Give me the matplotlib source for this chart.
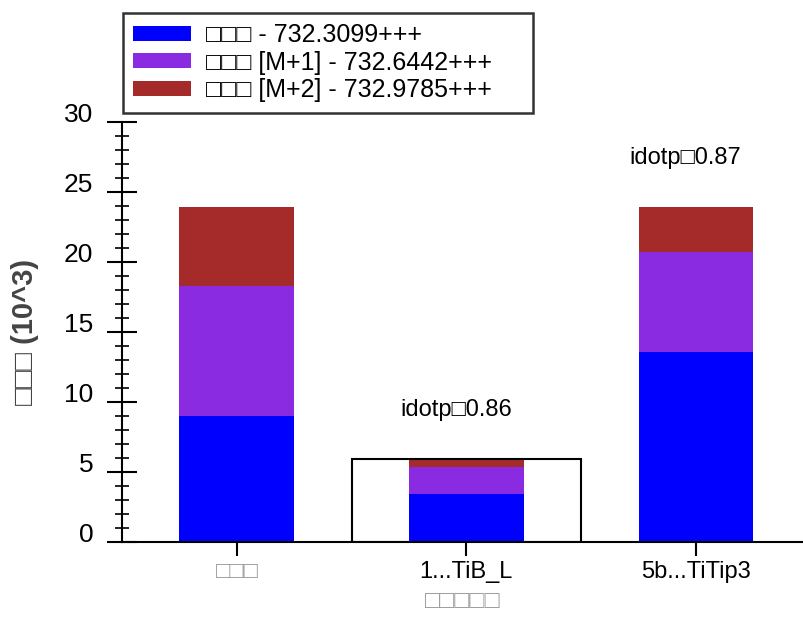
import matplotlib
matplotlib.use('Agg')
import matplotlib.pyplot as plt
from matplotlib.patches import Rectangle
from matplotlib.ticker import MultipleLocator

plt.rcParams['font.family'] = ['Liberation Sans', 'DejaVu Sans']

replicates = ['□□□', '1...TiB_L', '5b...TiTip3']
mono = [9.0, 3.43, 13.57]
m_plus1 = [9.29, 1.93, 7.14]
m_plus2 = [5.64, 0.57, 3.22]
idotp = [None, 0.86, 0.87]
series_labels = ['□□□ - 732.3099+++', '□□□ [M+1] - 732.6442+++', '□□□ [M+2] - 732.9785+++']
colors = ['#0000FF', '#8A2BE2', '#A52A2A']
selected = 1

fig = plt.figure(figsize=(8.04, 6.19), dpi=100)
ax = fig.add_axes([0.1517, 0.1244, 0.8483, 0.6786])

x = list(range(len(replicates)))
bottom = [0.0] * len(x)
handles = []
for vals, lab, c in zip([mono, m_plus1, m_plus2], series_labels, colors):
    h = ax.bar(x, vals, width=0.5, bottom=bottom, color=c, label=lab, zorder=2)
    handles.append(h)
    bottom = [b + v for b, v in zip(bottom, vals)]

# outline around the selected replicate
ax.add_patch(Rectangle((selected - 0.5, 0), 1.0, bottom[selected], fill=False,
                       edgecolor='black', linewidth=1.5, zorder=3))

for i, d in enumerate(idotp):
    if d is not None:
        ax.annotate(f'idotp□{d:.2f}', xy=(i, bottom[i] + 3.5), xytext=(-7.5, 0),
                    textcoords='offset points', ha='center', va='center', fontsize=17)

ax.set_xlim(-0.5, 2.47)
ax.set_ylim(0, 30)
ax.set_xticks(x)
ax.set_xticklabels(replicates, fontsize=17)
ax.get_xticklabels()[0].set_color('#999999')
ax.yaxis.set_major_locator(MultipleLocator(5))
ax.yaxis.set_minor_locator(MultipleLocator(1))
ax.tick_params(axis='y', which='major', direction='inout', length=21, width=1.5, labelsize=19, pad=10)
ax.tick_params(axis='y', which='minor', direction='inout', length=10, width=1.2)
ax.tick_params(axis='x', which='major', direction='out', length=10, width=1.5, pad=4)
for lbl in ax.get_yticklabels():
    lbl.set_verticalalignment('baseline')

for s in ['top', 'right']:
    ax.spines[s].set_visible(False)
ax.spines['left'].set_linewidth(1.5)
ax.spines['bottom'].set_linewidth(1.5)

ax.set_ylabel('□□□ (10^3)', fontsize=21, fontweight='bold', color='#444444', labelpad=18)
ax.set_xlabel('□□□□□', fontsize=18, color='#999999', labelpad=4)

leg = fig.legend(handles=handles, loc='upper left',
                 bbox_to_anchor=(123 / 804, 1 - 13 / 619, 410 / 804, 0.0), mode='expand',
                 fontsize=18, frameon=True, fancybox=False, handlelength=2.3,
                 handleheight=0.55, borderaxespad=0, labelspacing=0.15,
                 borderpad=0.4, handletextpad=0.6)
leg.get_frame().set_edgecolor('black')
leg.get_frame().set_linewidth(1.8)

fig.savefig('out.png', dpi=100)
